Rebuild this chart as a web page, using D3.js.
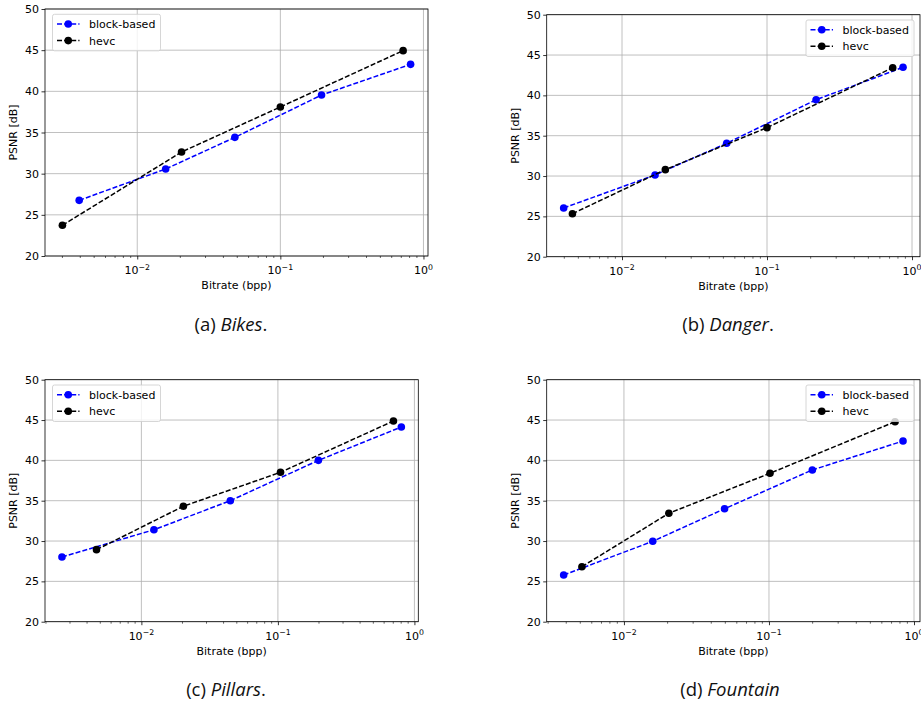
<!DOCTYPE html>
<html>
<head>
<meta charset="utf-8">
<script src="https://cdn.jsdelivr.net/npm/d3@7"></script>
<style>
  html, body { margin: 0; padding: 0; background: #ffffff; }
  svg { display: block; }
</style>
</head>
<body>
<svg id="chart" width="921" height="704"></svg>
<script>
// ---------------- data ----------------
const seriesNames = ["block-based", "hevc"];
const seriesColors = ["#0000ff", "#000000"];
const panelNames = ["Bikes", "Danger", "Pillars", "Fountain"];
const captionLabels = ["(a) ", "(b) ", "(c) ", "(d) "];
const captionSuffix = [".", ".", ".", ""];
const yTicks = [20, 25, 30, 35, 40, 45, 50];
const xTicks = [0.01, 0.1, 1];
const xTickExponents = ["\u22122", "\u22121", "0"];

const bikesBlockX = [0.00393, 0.0158, 0.0481, 0.194, 0.813];
const bikesBlockY = [26.76, 30.57, 34.41, 39.55, 43.28];
const bikesHevcX = [0.0030, 0.0204, 0.100, 0.721];
const bikesHevcY = [23.73, 32.63, 38.10, 44.94];

const dangerBlockX = [0.00396, 0.0169, 0.0527, 0.218, 0.867];
const dangerBlockY = [26.04, 30.13, 34.06, 39.46, 43.48];
const dangerHevcX = [0.00455, 0.0199, 0.100, 0.736];
const dangerHevcY = [25.33, 30.79, 36.00, 43.43];

const pillarsBlockX = [0.00262, 0.01236, 0.0448, 0.198, 0.802];
const pillarsBlockY = [28.02, 31.40, 35.00, 40.00, 44.14];
const pillarsHevcX = [0.00469, 0.0203, 0.1045, 0.702];
const pillarsHevcY = [28.93, 34.31, 38.52, 44.88];

const fountainBlockX = [0.00384, 0.0158, 0.0494, 0.199, 0.840];
const fountainBlockY = [25.79, 29.97, 34.00, 38.81, 42.40];
const fountainHevcX = [0.00513, 0.0204, 0.1016, 0.740];
const fountainHevcY = [26.82, 33.44, 38.40, 44.79];

const panelSeries = [
  [[bikesBlockX, bikesBlockY], [bikesHevcX, bikesHevcY]],
  [[dangerBlockX, dangerBlockY], [dangerHevcX, dangerHevcY]],
  [[pillarsBlockX, pillarsBlockY], [pillarsHevcX, pillarsHevcY]],
  [[fountainBlockX, fountainBlockY], [fountainHevcX, fountainHevcY]]
];

// ---------------- layout ----------------
const layouts = [
  { left: 45,    right: 428,   top: 9,     bottom: 256,   legend: "left",  capX: 231, capY: 331 },
  { left: 546.7, right: 920,   top: 14.7,  bottom: 256.7, legend: "right", capX: 728, capY: 331 },
  { left: 45,    right: 418.3, top: 379.7, bottom: 621.7, legend: "left",  capX: 226, capY: 696 },
  { left: 546.7, right: 920,   top: 379.7, bottom: 621.7, legend: "right", capX: 730, capY: 696 }
];

const FONT = "DejaVu Sans, sans-serif";
const LINE_W = 1.5;
const DASH = "5,2.1";
const svg = d3.select("#chart");

panelSeries.forEach((series, pi) => {
  const L = layouts[pi];
  const g = svg.append("g");

  // x domain: matplotlib-like 5% margins in log space
  const allX = series.flatMap(s => s[0]);
  const lmin = Math.log10(d3.min(allX)), lmax = Math.log10(d3.max(allX));
  const pad = (lmax - lmin) * 0.05;
  const x = d3.scaleLog().domain([Math.pow(10, lmin - pad), Math.pow(10, lmax + pad)]).range([L.left, L.right]);
  const y = d3.scaleLinear().domain([20, 50]).range([L.bottom, L.top]);

  // grid
  g.append("g").selectAll("line").data(yTicks).join("line")
    .attr("x1", L.left).attr("x2", L.right)
    .attr("y1", d => y(d)).attr("y2", d => y(d))
    .attr("stroke", "#b0b0b0").attr("stroke-width", 0.8);
  g.append("g").selectAll("line").data(xTicks).join("line")
    .attr("x1", d => x(d)).attr("x2", d => x(d))
    .attr("y1", L.top).attr("y2", L.bottom)
    .attr("stroke", "#b0b0b0").attr("stroke-width", 0.8);

  // minor ticks
  const [d0, d1] = x.domain();
  const minors = [];
  for (let k = Math.floor(Math.log10(d0)); k <= Math.ceil(Math.log10(d1)); k++) {
    for (let m = 2; m <= 9; m++) {
      const v = m * Math.pow(10, k);
      if (v >= d0 && v <= d1) minors.push(v);
    }
  }
  g.append("g").selectAll("line").data(minors).join("line")
    .attr("x1", d => x(d)).attr("x2", d => x(d))
    .attr("y1", L.bottom).attr("y2", L.bottom + 2)
    .attr("stroke", "#000").attr("stroke-width", 0.6);

  // x axis
  const xa = g.append("g").attr("transform", `translate(0,${L.bottom})`)
    .call(d3.axisBottom(x).tickValues(xTicks).tickSize(3.5).tickSizeOuter(0).tickFormat(() => ""));
  xa.select(".domain").remove();
  xa.selectAll(".tick line").attr("stroke", "#000").attr("stroke-width", 0.8);
  xa.selectAll(".tick text").remove();
  xTicks.forEach((v, i) => {
    const t = g.append("text")
      .attr("x", x(v)).attr("y", L.bottom + 18)
      .attr("text-anchor", "middle")
      .attr("font-family", FONT).attr("font-size", 11).attr("fill", "#000");
    t.append("tspan").text("10");
    t.append("tspan").attr("dy", -4.5).attr("font-size", 7.8).text(xTickExponents[i]);
  });

  // y axis
  const ya = g.append("g").attr("transform", `translate(${L.left},0)`)
    .call(d3.axisLeft(y).tickValues(yTicks).tickSize(3.5).tickSizeOuter(0).tickPadding(2.5));
  ya.select(".domain").remove();
  ya.selectAll(".tick line").attr("stroke", "#000").attr("stroke-width", 0.8);
  ya.selectAll(".tick text").attr("font-family", FONT).attr("font-size", 11).attr("fill", "#000");

  // axis labels
  g.append("text")
    .attr("x", (L.left + L.right) / 2).attr("y", L.bottom + 33)
    .attr("text-anchor", "middle").attr("font-family", FONT).attr("font-size", 11)
    .text("Bitrate (bpp)");
  g.append("text")
    .attr("transform", `translate(${L.left - 28},${(L.top + L.bottom) / 2}) rotate(-90)`)
    .attr("text-anchor", "middle").attr("font-family", FONT).attr("font-size", 11)
    .text("PSNR [dB]");

  // series
  series.forEach((s, si) => {
    const pts = s[0].map((xv, i) => [xv, s[1][i]]);
    const line = d3.line().x(d => x(d[0])).y(d => y(d[1]));
    g.append("path").datum(pts)
      .attr("d", line).attr("fill", "none")
      .attr("stroke", seriesColors[si]).attr("stroke-width", LINE_W)
      .attr("stroke-dasharray", DASH);
    g.append("g").selectAll("circle").data(pts).join("circle")
      .attr("cx", d => x(d[0])).attr("cy", d => y(d[1])).attr("r", 3.8)
      .attr("fill", seriesColors[si]);
  });

  // spines
  g.append("rect")
    .attr("x", L.left).attr("y", L.top)
    .attr("width", L.right - L.left).attr("height", L.bottom - L.top)
    .attr("fill", "none").attr("stroke", "#000").attr("stroke-width", 0.8);

  // legend
  const lw = 108, lh = 36.5;
  const lx = L.legend === "left" ? L.left + 7.5 : L.right - 6 - lw;
  const ly = L.top + 5.3;
  const lg = g.append("g").attr("transform", `translate(${lx},${ly})`);
  lg.append("rect").attr("width", lw).attr("height", lh).attr("rx", 2)
    .attr("fill", "#ffffff").attr("fill-opacity", 0.8)
    .attr("stroke", "#cccccc").attr("stroke-width", 0.8);
  seriesNames.forEach((name, si) => {
    const ry = 9.7 + si * 16.6;
    lg.append("line").attr("x1", 4.5).attr("x2", 27).attr("y1", ry).attr("y2", ry)
      .attr("stroke", seriesColors[si]).attr("stroke-width", LINE_W).attr("stroke-dasharray", DASH);
    lg.append("circle").attr("cx", 15.75).attr("cy", ry).attr("r", 3.8).attr("fill", seriesColors[si]);
    lg.append("text").attr("x", 36.5).attr("y", ry + 4)
      .attr("font-family", FONT).attr("font-size", 11).attr("fill", "#000").text(name);
  });

  // caption
  const cap = svg.append("text")
    .attr("x", L.capX).attr("y", L.capY)
    .attr("text-anchor", "middle")
    .attr("font-family", "Open Sans, Noto Sans, sans-serif").attr("font-size", 18.5).attr("fill", "#111");
  cap.append("tspan").text(captionLabels[pi]);
  cap.append("tspan").attr("font-style", "italic").text(panelNames[pi]);
  cap.append("tspan").text(captionSuffix[pi]);
});
</script>
</body>
</html>
